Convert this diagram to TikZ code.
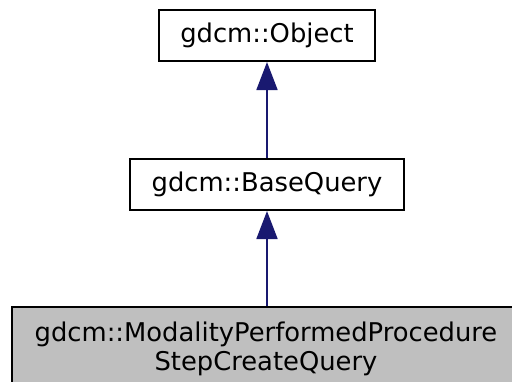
\documentclass[tikz,border=0pt]{standalone}
\usepackage{fontspec}
\setmainfont{DejaVu Sans}
\usetikzlibrary{arrows.meta}
\definecolor{edgeblue}{HTML}{191970}
\definecolor{boxgrey}{HTML}{BFBFBF}
\begin{document}
\begin{tikzpicture}[x=1pt,y=-1pt,
  classbox/.style={draw=black,line width=2pt,inner sep=0pt,align=center,
    font=\fontsize{25.8}{28.5}\selectfont},
  inherit/.style={draw=edgeblue,line width=1.8pt,
    -{Triangle[width=21pt,length=28pt,fill=edgeblue]}}]
\useasboundingbox (0,0) rectangle (512,381);
\node[classbox,fill=white,minimum width=216pt,minimum height=51pt] (obj) at (267,35.5) {gdcm::Object};
\node[classbox,fill=white,minimum width=274pt,minimum height=51pt] (base) at (267,184.5) {gdcm::BaseQuery};
\node[classbox,fill=boxgrey,minimum width=508pt,minimum height=84pt] (mpps) at (266,349) {gdcm::ModalityPerformedProcedure\\StepCreateQuery};
\draw[inherit] (base.north) -- (obj.south);
\draw[inherit] (mpps.north -| base.south) -- (base.south);
\end{tikzpicture}
\end{document}
